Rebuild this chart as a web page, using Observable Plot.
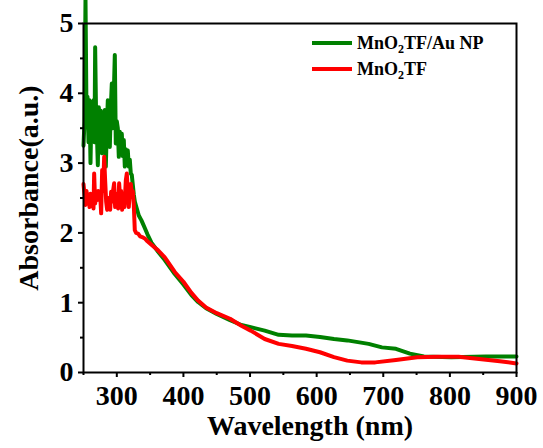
<!DOCTYPE html>
<html>
<head>
<meta charset="utf-8">
<script src="https://cdn.jsdelivr.net/npm/d3@7"></script>
<script src="https://cdn.jsdelivr.net/npm/@observablehq/plot@0.6"></script>
<style>
  html, body { margin: 0; padding: 0; background: #fff; }
  svg { display: block; }
</style>
</head>
<body>
<div id="chart"></div>
<script>
// ---- Data ----
const seriesNames = ["MnO₂TF/Au NP", "MnO₂TF"];
const seriesColors = ["#008000", "#ff0000"];

const wlAu = [250,251.5,253,254.5,256,257.5,259,260.5,262,263.5,265,266.5,267.5,269,270.5,271.5,273,274.5,276,277.5,279,280.5,282,283.5,285,286.5,288,289.5,291,292.5,294,295.5,297,298.5,300,301.5,303,304.5,306,307.5,309,310.5,312,313.5,315,316.5,318,319.5,321,322.5,325.5,327,330,333,337,342,346,352,362,372,387,400,412,422,434,450,470,487,501,522,543,563,584,605,626,646,678,698,719,740,761,802,854,900];
const absAu = [3.25,3.6,5.35,3.7,3.95,3.3,3.9,3.0,3.8,3.4,3.9,3.3,4.66,3.6,3.3,2.97,3.8,3.4,3.75,3.14,3.7,3.5,3.76,2.95,3.5,3.9,3.6,3.23,3.8,4.14,3.5,4.0,4.55,3.28,3.6,3.5,3.09,3.45,3.3,3.42,3.1,3.33,2.95,3.2,3.1,3.18,2.95,3.05,2.85,2.83,2.55,2.45,2.35,2.25,2.18,2.07,1.98,1.86,1.73,1.61,1.41,1.26,1.11,1.01,0.92,0.84,0.75,0.68,0.65,0.60,0.54,0.53,0.53,0.51,0.48,0.46,0.41,0.36,0.34,0.27,0.23,0.22,0.23,0.23];

const wlTF = [250,251.5,253,254.5,256,257.5,259,260.5,262,263.5,265,266,267.5,269,270.5,272,273.5,275,276.5,278,279.5,281,282.5,284,285.5,287,288.5,290,291.5,293,294.5,296,297.5,299,300.5,302,303.5,305,306.5,308,310,311.5,313.5,315,316.5,318,319.5,321,322.5,324,325.5,327,329,332,335,338,342,346,352,362,372,387,400,412,422,434,450,470,487,501,522,543,563,584,605,626,646,667,688,719,751,782,813,844,875,900];
const absTF = [2.7,2.55,2.4,2.6,2.45,2.55,2.37,2.56,2.4,2.5,2.35,2.85,2.42,2.55,2.47,2.6,2.5,2.56,2.28,2.9,2.6,3.09,2.75,2.45,2.33,2.5,2.47,2.33,2.59,2.45,2.61,2.71,2.37,2.5,2.56,2.35,2.71,2.5,2.6,2.33,2.5,2.37,2.75,2.85,2.6,2.37,2.61,2.7,2.56,2.6,2.4,2.04,2.0,1.99,1.95,1.94,1.92,1.88,1.83,1.75,1.65,1.44,1.3,1.14,1.03,0.93,0.85,0.77,0.67,0.60,0.48,0.41,0.38,0.34,0.29,0.22,0.17,0.145,0.145,0.18,0.217,0.227,0.227,0.193,0.16,0.13];

const xMajorTicks = [300, 400, 500, 600, 700, 800, 900];
const xMinorTicks = [250, 350, 450, 550, 650, 750, 850];
const yMajorTicks = [0, 1, 2, 3, 4, 5];
const yMinorTicks = [0.5, 1.5, 2.5, 3.5, 4.5];

const xTitle = "Wavelength (nm)";
const yTitle = "Absorbance(a.u.)";

// ---- Build table ----
const rows = [
  ...wlAu.map((w, i) => ({series: seriesNames[0], wl: w, a: absAu[i]})),
  ...wlTF.map((w, i) => ({series: seriesNames[1], wl: w, a: absTF[i]}))
];

const W = 543, H = 448;
const mL = 83, mR = 27, mT = 23, mB = 76;
const font = "'Liberation Serif', 'Times New Roman', serif";

const chart = Plot.plot({
  width: W, height: H,
  marginLeft: mL, marginRight: mR, marginTop: mT, marginBottom: mB,
  style: {fontFamily: font, fontWeight: "bold", fontSize: "28px", color: "#000", background: "#fff"},
  x: {domain: [250, 900]},
  y: {domain: [0, 5]},
  color: {domain: seriesNames, range: seriesColors},
  marks: [
    Plot.line(rows.filter(d => d.series === seriesNames[0]), {x: "wl", y: "a", stroke: "series", strokeWidth: 4, strokeLinejoin: "round"}),
    Plot.line(rows.filter(d => d.series === seriesNames[1]), {x: "wl", y: "a", stroke: "series", strokeWidth: 4, strokeLinejoin: "round"}),
    Plot.axisX({ticks: xMajorTicks, tickSize: 5, tickPadding: 8, strokeWidth: 2, label: null, tickFormat: d3.format("d"), fontSize: 28, fontWeight: "bold"}),
    Plot.axisX({ticks: xMinorTicks, tickSize: 3, strokeWidth: 2, tickFormat: () => "", label: null}),
    Plot.axisY({ticks: yMajorTicks, tickSize: 5, tickPadding: 5, strokeWidth: 2, label: null, tickFormat: d3.format("d"), fontSize: 28, fontWeight: "bold"}),
    Plot.axisY({ticks: yMinorTicks, tickSize: 3, strokeWidth: 2, tickFormat: () => "", label: null}),
    Plot.frame({stroke: "#000", strokeWidth: 2}),
    Plot.text([xTitle], {text: d => d, frameAnchor: "bottom", textAnchor: "middle", lineAnchor: "middle", dy: 54, dx: 10, fontSize: 28, fontWeight: "bold"}),
    Plot.text([yTitle], {text: d => d, frameAnchor: "left", textAnchor: "middle", lineAnchor: "middle", rotate: -90, dx: -54, dy: -10, fontSize: 28, fontWeight: "bold"})
  ]
});

document.getElementById("chart").appendChild(chart);

// ---- Legend (inside the frame, top right) ----
const svg = d3.select(chart);
const lg = svg.append("g")
  .attr("font-family", font).attr("font-weight", "bold").attr("font-size", 18)
  .attr("text-anchor", "start");
seriesNames.forEach((name, i) => {
  const cy = 43 + i * 26;
  lg.append("line")
    .attr("x1", 312).attr("x2", 352).attr("y1", cy).attr("y2", cy)
    .attr("stroke", seriesColors[i]).attr("stroke-width", 4);
  const parts = name.split("₂");
  const t = lg.append("text").attr("x", 357).attr("y", cy + 6).attr("fill", "#000").attr("text-anchor", "start");
  t.append("tspan").text(parts[0]);
  t.append("tspan").attr("dy", 4).attr("font-size", 12).text("2");
  t.append("tspan").attr("dy", -4).text(parts[1]);
});
</script>
</body>
</html>
